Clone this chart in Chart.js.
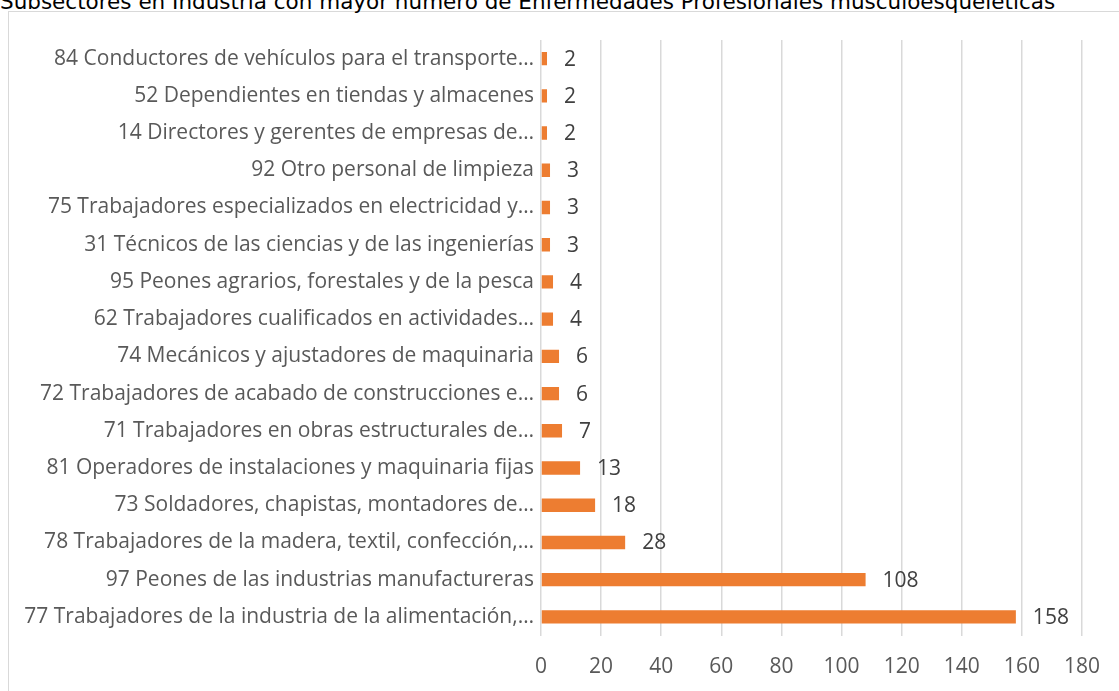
<!DOCTYPE html>
<html>
<head>
<meta charset="utf-8">
<script src="https://cdn.jsdelivr.net/npm/chart.js@4"></script>
<style>
  html, body { margin:0; padding:0; width:1119px; height:691px; overflow:hidden; background:#fff; }
  #title { position:absolute; left:0; top:-9px; font-family:"DejaVu Sans", Verdana, sans-serif; font-size:21.5px; line-height:21.5px; color:#000; white-space:nowrap; }
  #frame { position:absolute; left:8px; top:11px; width:2000px; height:2000px; border:1px solid #d9d9d9; }
  #wrap { position:absolute; left:0; top:0; width:1119px; height:691px; }
</style>
</head>
<body>
<div id="frame"></div>
<div id="title">Subsectores en Industria con mayor número de Enfermedades Profesionales musculoesqueléticas</div>
<div id="wrap"><canvas id="c" width="1119" height="691"></canvas></div>
<script>
const categories = [
  "84 Conductores de vehículos para el transporte…",
  "52 Dependientes en tiendas y almacenes",
  "14 Directores y gerentes de empresas de…",
  "92 Otro personal de limpieza",
  "75 Trabajadores especializados en electricidad y…",
  "31 Técnicos de las ciencias y de las ingenierías",
  "95 Peones agrarios, forestales y de la pesca",
  "62 Trabajadores cualificados en actividades…",
  "74 Mecánicos y ajustadores de maquinaria",
  "72 Trabajadores de acabado de construcciones e…",
  "71 Trabajadores en obras estructurales de…",
  "81 Operadores de instalaciones y maquinaria fijas",
  "73 Soldadores, chapistas, montadores de…",
  "78 Trabajadores de la madera, textil, confección,…",
  "97 Peones de las industrias manufactureras",
  "77 Trabajadores de la industria de la alimentación,…"
];
const values = [2, 2, 2, 3, 3, 3, 4, 4, 6, 6, 7, 13, 18, 28, 108, 158];
const xMin = 0, xMax = 180, xStep = 20;

const FONT = "'Open Sans', Calibri, sans-serif";

const valueLabels = {
  id: 'valueLabels',
  afterDatasetsDraw(chart) {
    const ctx = chart.ctx;
    const meta = chart.getDatasetMeta(0);
    ctx.save();
    ctx.font = "21px " + FONT;
    ctx.fillStyle = "#404040";
    ctx.textAlign = "left";
    ctx.textBaseline = "middle";
    meta.data.forEach((el, i) => {
      ctx.fillText(String(values[i]), el.x + 17, el.y + 1);
    });
    ctx.restore();
  }
};

new Chart(document.getElementById('c'), {
  type: 'bar',
  data: {
    labels: categories,
    datasets: [{
      data: values,
      backgroundColor: '#ED7D31',
      borderWidth: 0,
      categoryPercentage: 1,
      barPercentage: 0.36
    }]
  },
  options: {
    indexAxis: 'y',
    responsive: false,
    animation: false,
    layout: { padding: { top: 40, right: 33, left: 0, bottom: 0 } },
    plugins: { legend: { display: false }, tooltip: { enabled: false }, title: { display: false } },
    scales: {
      x: {
        min: xMin, max: xMax,
        ticks: { stepSize: xStep, color: '#595959', font: { family: FONT, size: 21 }, padding: 19 },
        grid: { color: '#d9d9d9', lineWidth: 1.5, drawTicks: false },
        border: { display: false },
        afterFit(scale) { scale.height = 55.5; }
      },
      y: {
        ticks: { color: '#595959', font: { family: FONT, size: 21 }, padding: 7, autoSkip: false },
        grid: { display: false, drawTicks: false },
        border: { display: false },
        afterFit(scale) { scale.width = 541; }
      }
    }
  },
  plugins: [valueLabels]
});
</script>
</body>
</html>
